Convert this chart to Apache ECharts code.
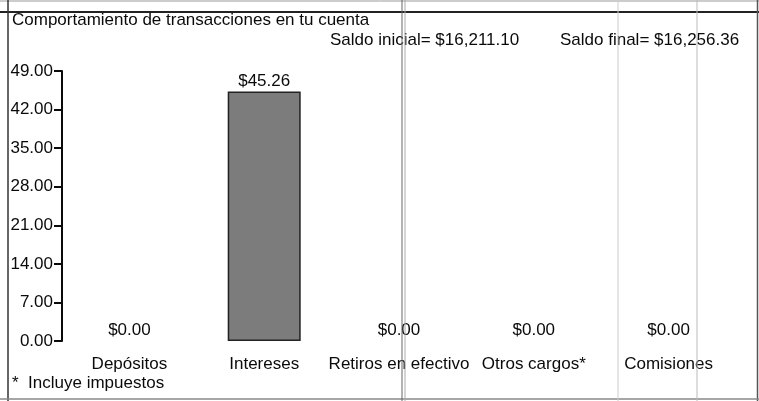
<!DOCTYPE html>
<html><head><meta charset="utf-8">
<script src="https://cdn.jsdelivr.net/npm/echarts@6/dist/echarts.min.js"></script>
<style>html,body{margin:0;padding:0;background:#fff}#c{width:759px;height:401px}</style>
</head><body><div id="c"></div>
<script>
var categories = ['Depósitos', 'Intereses', 'Retiros en efectivo', 'Otros cargos*', 'Comisiones'];
var values = [0.00, 45.26, 0.00, 0.00, 0.00];
var yTicks = [0, 7, 14, 21, 28, 35, 42, 49];
var titleText = 'Comportamiento de transacciones en tu cuenta';
var saldoInicial = 'Saldo inicial= $16,211.10';
var saldoFinal = 'Saldo final= $16,256.36';
var footnote = '*  Incluye impuestos';

var FONT = 'Liberation Sans, Arial, sans-serif';
var FS = 17;
var INK = '#0a0a0a';
var chart = echarts.init(document.getElementById('c'), null, {renderer: 'canvas'});
chart.setOption({
  animation: false,
  backgroundColor: '#fff',
  textStyle: {fontFamily: FONT},
  grid: {left: 62, right: 23, top: 71, bottom: 60, containLabel: false},
  xAxis: {
    type: 'category', data: categories,
    axisLine: {show: false}, axisTick: {show: false},
    axisLabel: {color: INK, fontSize: FS, fontFamily: FONT, margin: 15, interval: 0}
  },
  yAxis: {
    type: 'value', min: yTicks[0], max: yTicks[yTicks.length - 1], interval: 7,
    splitLine: {show: false},
    axisLine: {show: true, lineStyle: {color: INK, width: 2}},
    axisTick: {show: true, inside: false, length: 8, lineStyle: {color: INK, width: 2}},
    axisLabel: {color: INK, fontSize: FS, fontFamily: FONT, margin: 9,
      formatter: function (v) { return v.toFixed(2); }}
  },
  series: [{
    type: 'bar', barWidth: 73,
    data: values.map(function (v) {
      return {value: v, itemStyle: v === 0 ? {borderWidth: 0} : {}};
    }),
    itemStyle: {color: '#7c7c7c', borderColor: '#222', borderWidth: 1.5},
    label: {show: true, position: 'top', distance: 2, color: INK, fontSize: FS, fontFamily: FONT,
      formatter: function (p) { return '$' + p.value.toFixed(2); }}
  }],
  graphic: [
    {type: 'line', shape: {x1: 0, y1: 12, x2: 759, y2: 12}, style: {stroke: '#222', lineWidth: 2}, z: 10},
    {type: 'line', shape: {x1: 0, y1: 1, x2: 759, y2: 1}, style: {stroke: '#999', lineWidth: 1}, z: 10},
    {type: 'line', shape: {x1: 8, y1: 0, x2: 8, y2: 401}, style: {stroke: '#333', lineWidth: 1.5}, z: 10},
    {type: 'line', shape: {x1: 757.5, y1: 0, x2: 757.5, y2: 401}, style: {stroke: '#555', lineWidth: 1.5}, z: 10},
    {type: 'line', shape: {x1: 0, y1: 399, x2: 759, y2: 399}, style: {stroke: '#888', lineWidth: 1.5}, z: 10},
    {type: 'line', shape: {x1: 402, y1: 0, x2: 402, y2: 401}, style: {stroke: '#666', lineWidth: 1}, z: 10},
    {type: 'line', shape: {x1: 405, y1: 0, x2: 405, y2: 401}, style: {stroke: '#aaa', lineWidth: 1}, z: 10},
    {type: 'line', shape: {x1: 618, y1: 0, x2: 618, y2: 401}, style: {stroke: '#ccc', lineWidth: 1}, z: 10},
    {type: 'line', shape: {x1: 697, y1: 0, x2: 697, y2: 401}, style: {stroke: '#bbb', lineWidth: 1}, z: 10},
    {type: 'text', left: 12, top: 12, style: {text: titleText, fill: INK, font: FS + 'px ' + FONT}},
    {type: 'text', left: 330, top: 32, style: {text: saldoInicial, fill: INK, font: FS + 'px ' + FONT}},
    {type: 'text', left: 560, top: 32, style: {text: saldoFinal, fill: INK, font: FS + 'px ' + FONT}},
    {type: 'text', left: 12, top: 375, style: {text: footnote, fill: INK, font: FS + 'px ' + FONT}}
  ]
});
</script></body></html>
